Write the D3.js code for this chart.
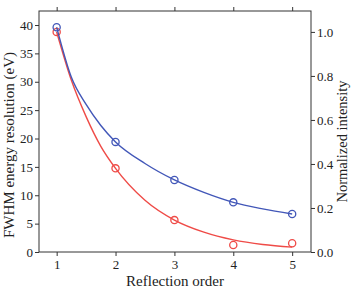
<!DOCTYPE html>
<html>
<head>
<meta charset="utf-8">
<script src="https://cdn.jsdelivr.net/npm/d3@7"></script>
<style>
  body { margin: 0; background: #fff; }
</style>
</head>
<body>
<div id="viz"></div>
<script>
// measured points
var orders = [1, 2, 3, 4, 5],
    fwhmValues = [39.6, 19.4, 12.7, 8.75, 6.7],
    intensityValues = [1.0, 0.38, 0.145, 0.032, 0.04],

    // fitted curves
    curveOrders = [1, 1.25, 1.5, 1.75, 2, 2.5, 3, 3.5, 4, 4.5, 5],
    fwhmCurve = [39.6, 30.8, 26.0, 22.3, 19.4, 15.6, 12.7, 10.5, 8.75, 7.6, 6.7],
    intensityCurve = [1.0, 0.78, 0.615, 0.48, 0.38, 0.235, 0.145, 0.09, 0.055, 0.034, 0.022],

    leftTicks = [0, 5, 10, 15, 20, 25, 30, 35, 40],
    rightTicks = [0, 0.2, 0.4, 0.6, 0.8, 1.0],

    width = 355,
    height = 291,
    margin = {top: 11, right: 44, bottom: 39, left: 39},
    serif = '"Liberation Serif", "Times New Roman", Times, serif',

    svg = d3.select('#viz')
        .append('svg')
            .attr('width', width)
            .attr('height', height)
            .style('font-family', serif),

    x = d3.scaleLinear()
        .domain([0.7, 5.32])
        .range([margin.left, width - margin.right]),

    yLeft = d3.scaleLinear()
        .domain([0, 42.47])
        .range([height - margin.bottom, margin.top]),

    yRight = d3.scaleLinear()
        .domain([0, 1.095])
        .range([height - margin.bottom, margin.top]),

    blue = '#4257b8',
    red = '#ef4b47';

var styleAxis = function (g) {
    g.attr('font-family', serif).attr('font-size', 13);
    g.selectAll('line').style('stroke', '#333');
    g.selectAll('text').style('fill', '#222').style('font-family', serif);
    g.select('.domain').remove();
};

// axes
svg.append('g')
    .attr('transform', 'translate(0,' + (height - margin.bottom) + ')')
    .call(d3.axisBottom(x).tickValues(orders).tickFormat(d3.format('d')).tickSize(4).tickPadding(4))
    .call(styleAxis);

svg.append('g')
    .attr('transform', 'translate(0,' + margin.top + ')')
    .call(d3.axisTop(x).tickValues(orders).tickSize(4).tickFormat(''))
    .call(styleAxis);

svg.append('g')
    .attr('transform', 'translate(' + margin.left + ',0)')
    .call(d3.axisLeft(yLeft).tickValues(leftTicks).tickSize(4).tickPadding(2))
    .call(styleAxis);

svg.append('g')
    .attr('transform', 'translate(' + (width - margin.right) + ',0)')
    .call(d3.axisRight(yRight).tickValues(rightTicks).tickFormat(d3.format('.1f')).tickSize(4).tickPadding(2))
    .call(styleAxis);

svg.append('rect')
    .attr('x', margin.left)
    .attr('y', margin.top)
    .attr('width', width - margin.left - margin.right)
    .attr('height', height - margin.top - margin.bottom)
    .style('fill', 'none')
    .style('stroke', '#333')
    .style('stroke-width', 1);

// axis titles
var addTitle = function (label, transform, size) {
    svg.append('text')
        .attr('transform', transform)
        .attr('text-anchor', 'middle')
        .style('font-family', serif)
        .style('font-size', size + 'px')
        .style('fill', '#222')
        .text(label);
};

addTitle('Reflection order', 'translate(' + (margin.left + width - margin.right) / 2 + ',286)', 15);
addTitle('FWHM energy resolution (eV)', 'translate(14,145) rotate(-90)', 15);
addTitle('Normalized intensity', 'translate(347,141.5) rotate(-90)', 14.5);

// curves and points
var drawSeries = function (curveVals, pointVals, yScale, color) {
    var line = d3.line()
        .x(function (d, i) { return x(curveOrders[i]); })
        .y(function (d) { return yScale(d); })
        .curve(d3.curveMonotoneX);

    svg.append('path')
        .datum(curveVals)
        .attr('d', line)
        .style('fill', 'none')
        .style('stroke', color)
        .style('stroke-width', 1.4);

    svg.append('g').selectAll('circle')
        .data(pointVals)
        .enter().append('circle')
            .attr('cx', function (d, i) { return x(orders[i]); })
            .attr('cy', function (d) { return yScale(d); })
            .attr('r', 3.6)
            .style('fill', 'none')
            .style('stroke', color)
            .style('stroke-width', 1.3);
};

drawSeries(intensityCurve, intensityValues, yRight, red);
drawSeries(fwhmCurve, fwhmValues, yLeft, blue);
</script>
</body>
</html>
